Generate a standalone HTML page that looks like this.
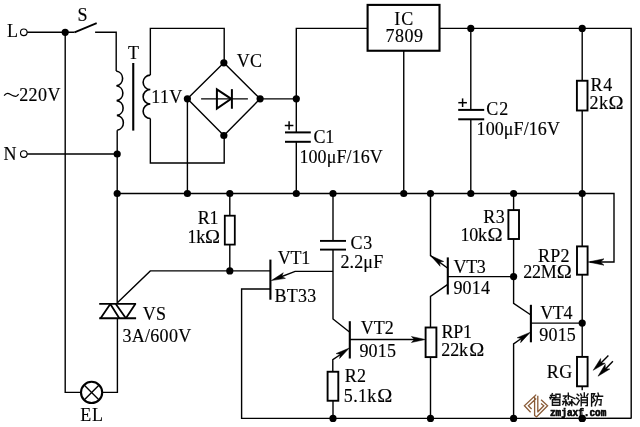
<!DOCTYPE html>
<html><head><meta charset="utf-8"><style>
html,body{margin:0;padding:0;background:#fff;width:640px;height:427px;overflow:hidden}
svg{display:block;will-change:transform}
text{font-family:"Liberation Serif",serif;fill:#000;stroke:#000;stroke-width:0.15px}
</style></head><body>
<svg width="640" height="427" viewBox="0 0 640 427">
<g fill="none" stroke="#000" stroke-linecap="butt" stroke-linejoin="miter">
<circle cx="23.8" cy="32.3" r="3.3" fill="none" stroke-width="1.15"/>
<path d="M27.1,32.3 L74.5,32.3" stroke-width="1.4"/>
<circle cx="65.2" cy="32.3" r="3.6" fill="#000" stroke="none"/>
<path d="M74.5,32.3 L96.7,23.1" stroke-width="1.8"/>
<path d="M95.1,32.3 L116.2,32.3 L116.2,71" stroke-width="1.4"/>
<path d="M116.2,71 a7.5,7.5 0 0 1 0.25,14.8 a7.5,7.5 0 0 1 0.25,14.8 a7.5,7.5 0 0 1 0.25,14.8 a7.5,7.5 0 0 1 0.25,14.8" stroke-width="1.6" fill="none"/>
<path d="M117.2,130.2 L117.2,303.9" stroke-width="1.4"/>
<path d="M117.4,318.2 L117.4,392.4 L102.9,392.4" stroke-width="1.4"/>
<circle cx="23.8" cy="154.0" r="3.3" fill="none" stroke-width="1.15"/>
<path d="M27.1,154.0 L117.2,154.0" stroke-width="1.4"/>
<circle cx="117.2" cy="154.0" r="3.6" fill="#000" stroke="none"/>
<path d="M65.2,32.3 L65.2,392.4 L80.3,392.4" stroke-width="1.4"/>
<circle cx="91.6" cy="392.4" r="10.6" fill="none" stroke-width="2.1"/>
<path d="M84.1,384.9 L99.1,399.9" stroke-width="1.4"/>
<path d="M99.1,384.9 L84.1,399.9" stroke-width="1.4"/>
<path d="M133.25,63 L133.25,130.6" stroke-width="2.1"/>
<path d="M224.2,62.8 L224.2,28.4 L150.35,28.4 L150.35,75.1" stroke-width="1.4"/>
<path d="M150.35,75.1 a7.23,7.23 0 0 0 0,14.47 a7.23,7.23 0 0 0 0,14.47 a7.23,7.23 0 0 0 0,14.47" stroke-width="1.6" fill="none"/>
<path d="M150.35,118.5 L150.35,163.0 L224.2,163.0 L224.2,135.5" stroke-width="1.4"/>
<path d="M223.85,62.8 L260.1,98.85 L223.85,135.5 L187.4,98.85 L223.85,62.8" stroke-width="1.4"/>
<circle cx="223.85" cy="62.8" r="3.6" fill="#000" stroke="none"/>
<circle cx="260.1" cy="98.85" r="3.6" fill="#000" stroke="none"/>
<circle cx="223.85" cy="135.5" r="3.6" fill="#000" stroke="none"/>
<circle cx="187.4" cy="98.85" r="3.6" fill="#000" stroke="none"/>
<path d="M201.1,98.85 L247.9,98.85" stroke-width="1.4"/>
<path d="M216.9,89.4 L216.9,108.5 L231.2,98.85 Z" stroke-width="2" fill="none"/>
<path d="M231.9,89.15 L231.9,108.75" stroke-width="2"/>
<path d="M187.4,98.85 L187.4,193.5" stroke-width="1.4"/>
<path d="M260.1,98.85 L296.3,98.85" stroke-width="1.4"/>
<circle cx="296.3" cy="98.85" r="3.6" fill="#000" stroke="none"/>
<path d="M296.3,132.4 L296.3,28.4 L367.6,28.4" stroke-width="1.4"/>
<rect x="367.6" y="4.9" width="71.89999999999998" height="45.85" fill="none" stroke-width="2.1"/>
<path d="M439.5,28.4 L631.2,28.4 L631.2,418.4" stroke-width="1.4"/>
<circle cx="470.8" cy="28.4" r="3.6" fill="#000" stroke="none"/>
<circle cx="582.2" cy="28.4" r="3.6" fill="#000" stroke="none"/>
<path d="M403.75,50.75 L403.75,193.5" stroke-width="1.4"/>
<path d="M285,132.4 L310.8,132.4" stroke-width="2.0"/>
<path d="M285,141.8 L310.8,141.8" stroke-width="2.0"/>
<path d="M296.3,141.8 L296.3,193.5" stroke-width="1.4"/>
<path d="M284.8,125.5 L293.4,125.5" stroke-width="1.5"/>
<path d="M289.1,121.2 L289.1,129.8" stroke-width="1.5"/>
<path d="M470.8,28.4 L470.8,109.9" stroke-width="1.4"/>
<path d="M458.2,109.9 L484.2,109.9" stroke-width="2.0"/>
<path d="M458.2,119.3 L484.2,119.3" stroke-width="2.0"/>
<path d="M470.8,119.3 L470.8,193.5" stroke-width="1.4"/>
<path d="M458.3,102.7 L466.9,102.7" stroke-width="1.5"/>
<path d="M462.6,98.4 L462.6,107" stroke-width="1.5"/>
<path d="M582.2,28.4 L582.2,80.75" stroke-width="1.4"/>
<rect x="576.9" y="80.75" width="10.600000000000023" height="29.75" fill="none" stroke-width="1.9"/>
<path d="M582.2,110.5 L582.2,246.4" stroke-width="1.4"/>
<path d="M117.2,193.5 L614,193.5 L614,262.0 L590,262.0" stroke-width="1.4"/>
<circle cx="117.2" cy="193.5" r="3.6" fill="#000" stroke="none"/>
<circle cx="187.4" cy="193.5" r="3.6" fill="#000" stroke="none"/>
<circle cx="229.8" cy="193.5" r="3.6" fill="#000" stroke="none"/>
<circle cx="296.3" cy="193.5" r="3.6" fill="#000" stroke="none"/>
<circle cx="333" cy="193.5" r="3.6" fill="#000" stroke="none"/>
<circle cx="403.75" cy="193.5" r="3.6" fill="#000" stroke="none"/>
<circle cx="430.5" cy="193.5" r="3.6" fill="#000" stroke="none"/>
<circle cx="470.8" cy="193.5" r="3.6" fill="#000" stroke="none"/>
<circle cx="513.6" cy="193.5" r="3.6" fill="#000" stroke="none"/>
<circle cx="582.2" cy="193.5" r="3.6" fill="#000" stroke="none"/>
<path d="M229.8,193.5 L229.8,215.7" stroke-width="1.4"/>
<rect x="224.8" y="215.7" width="10.0" height="28.900000000000006" fill="none" stroke-width="1.8"/>
<path d="M229.8,244.6 L229.8,270.9" stroke-width="1.4"/>
<circle cx="229.8" cy="270.9" r="3.6" fill="#000" stroke="none"/>
<path d="M117.6,302.5 L150.3,270.9 L270.4,270.9" stroke-width="1.4"/>
<path d="M270.4,259.6 L270.4,299.7" stroke-width="2.1"/>
<path d="M270.4,289.0 L241.6,289.0 L241.6,418.4 L631.2,418.4" stroke-width="1.4"/>
<path d="M333,271.4 L295.1,271.4 L278,278" stroke-width="1.4"/>
<path d="M271.30,280.60 L285.44,278.35 L281.56,276.63 L283.28,272.75 Z" fill="#000" stroke="#000" stroke-width="0.5" stroke-linejoin="miter"/>
<path d="M333,193.5 L333,240.9" stroke-width="1.4"/>
<path d="M320,240.9 L346,240.9" stroke-width="1.9"/>
<path d="M320,249.6 L346,249.6" stroke-width="1.9"/>
<path d="M333,249.6 L333,319 L349.8,332.3" stroke-width="1.4"/>
<path d="M349.8,321.2 L349.8,358.5" stroke-width="2.1"/>
<path d="M349.8,339.5 L418,339.5" stroke-width="1.4"/>
<path d="M425.40,339.50 L411.40,336.50 L414.40,339.50 L411.40,342.50 Z" fill="#000" stroke="#000" stroke-width="0.5" stroke-linejoin="miter"/>
<path d="M332.8,371.75 L332.8,359.6 L342,353.5" stroke-width="1.4"/>
<path d="M349.30,348.00 L336.12,353.60 L340.30,354.33 L339.57,358.51 Z" fill="#000" stroke="#000" stroke-width="0.5" stroke-linejoin="miter"/>
<rect x="327.6" y="371.75" width="10.699999999999989" height="29.0" fill="none" stroke-width="1.9"/>
<path d="M333,400.75 L333,418.4" stroke-width="1.4"/>
<path d="M430.5,193.5 L430.5,255.6 L447.8,268.2" stroke-width="1.4"/>
<path d="M430.60,255.60 L440.12,266.29 L439.47,262.10 L443.67,261.45 Z" fill="#000" stroke="#000" stroke-width="0.5" stroke-linejoin="miter"/>
<path d="M447.8,257.4 L447.8,294.5" stroke-width="2.1"/>
<path d="M447.8,276.6 L513.6,276.6" stroke-width="1.4"/>
<circle cx="513.6" cy="276.6" r="3.6" fill="#000" stroke="none"/>
<path d="M447.8,284.4 L430.5,296.3 L430.5,327.5" stroke-width="1.4"/>
<rect x="425.6" y="327.5" width="10.799999999999955" height="29.600000000000023" fill="none" stroke-width="1.9"/>
<path d="M430.5,357.1 L430.5,418.4" stroke-width="1.4"/>
<path d="M513.6,193.5 L513.6,210.1" stroke-width="1.4"/>
<rect x="508.4" y="210.1" width="10.600000000000023" height="28.900000000000006" fill="none" stroke-width="1.9"/>
<path d="M513.6,239 L513.6,303.3 L530.9,315" stroke-width="1.4"/>
<path d="M530.9,304.8 L530.9,342.3" stroke-width="2.1"/>
<path d="M530.9,323.1 L582.2,323.1" stroke-width="1.4"/>
<circle cx="582.2" cy="323.1" r="3.6" fill="#000" stroke="none"/>
<path d="M513.6,418.4 L513.6,343.9 L522,338" stroke-width="1.4"/>
<path d="M530.40,332.20 L517.20,337.74 L521.37,338.49 L520.63,342.66 Z" fill="#000" stroke="#000" stroke-width="0.5" stroke-linejoin="miter"/>
<rect x="577" y="246.4" width="10.600000000000023" height="28.299999999999983" fill="none" stroke-width="1.9"/>
<path d="M588.20,262.00 L604.00,265.20 L600.50,262.00 L604.00,258.80 Z" fill="#000" stroke="#000" stroke-width="0.5" stroke-linejoin="miter"/>
<path d="M582.2,274.7 L582.2,356.9" stroke-width="1.4"/>
<rect x="577" y="356.9" width="10.600000000000023" height="29.400000000000034" fill="none" stroke-width="1.9"/>
<path d="M582.2,386.3 L582.2,418.4" stroke-width="1.4"/>
<circle cx="333" cy="418.4" r="3.6" fill="#000" stroke="none"/>
<circle cx="430.5" cy="418.4" r="3.6" fill="#000" stroke="none"/>
<circle cx="513.6" cy="418.4" r="3.6" fill="#000" stroke="none"/>
<circle cx="582.2" cy="418.4" r="3.6" fill="#000" stroke="none"/>
<path d="M608.4,355.6 L599,365" stroke-width="1.4"/>
<path d="M593.20,370.30 L605.20,363.29 L600.75,363.00 L600.61,358.54 Z" fill="#000" stroke="#000" stroke-width="0.5" stroke-linejoin="miter"/>
<path d="M612.9,361.3 L604,370.5" stroke-width="1.4"/>
<path d="M598.00,376.20 L609.88,368.99 L605.42,368.78 L605.21,364.32 Z" fill="#000" stroke="#000" stroke-width="0.5" stroke-linejoin="miter"/>
<path d="M99.2,303.9 L136.1,303.9" stroke-width="1.9"/>
<path d="M99.2,318.2 L136.1,318.2" stroke-width="1.9"/>
<path d="M100.6,318.2 L110.3,303.9 L119.3,318.2 M115.8,303.9 L125.9,318.2 L135.3,303.9" stroke-width="1.8" stroke-linejoin="bevel"/>
<path d="M4.1,95.7 C5.3,94 6.3,93.3 7.4,93.3 C9.5,93.3 11.5,95.3 13.5,95.9 C14.6,96.3 15.5,96.5 16.3,96.2 C17.2,95.9 18,95 18.6,94.2" stroke-width="1.2" fill="none"/>
</g>
<g>
<text x="7.0" y="37.38" style="font-size:18px">L</text>
<text x="77.45" y="21.25" style="font-size:18px">S</text>
<text x="127.95" y="59.08" style="font-size:18px">T</text>
<text x="19.15" y="100.50" style="font-size:18px;letter-spacing:0.43px">220V</text>
<text x="3.4" y="159.88" style="font-size:18px">N</text>
<text x="151.2" y="103.43" style="font-size:18px;letter-spacing:0.4px">11V</text>
<text x="236.75" y="66.50" style="font-size:18px;letter-spacing:0.25px">VC</text>
<text x="394.35" y="24.70" style="font-size:18px;letter-spacing:0.9px">IC</text>
<text x="385.55" y="42.15" style="font-size:18px;letter-spacing:0.5px">7809</text>
<text x="313.55" y="143.40" style="font-size:18px;letter-spacing:-0.3px">C1</text>
<text x="299.4" y="162.60" style="font-size:18px;letter-spacing:0.1px">100μF/16V</text>
<text x="486.35" y="115.35" style="font-size:18px;letter-spacing:0.9px">C2</text>
<text x="476.6" y="135.00" style="font-size:18px;letter-spacing:0.08px">100μF/16V</text>
<text x="590.6" y="90.82" style="font-size:18px;letter-spacing:0.55px">R4</text>
<text x="589.45" y="108.60" style="font-size:18px;letter-spacing:0.55px">2k</text>
<text transform="translate(608.50,108.60) scale(1.126,1)" x="0" y="0" style="font-size:18px">Ω</text>
<text x="197.8" y="223.52" style="font-size:18px;letter-spacing:-0.3px">R1</text>
<text x="187.4" y="242.75" style="font-size:18px;letter-spacing:-0.2px">1k</text>
<text transform="translate(204.90,242.75) scale(1.126,1)" x="0" y="0" style="font-size:18px">Ω</text>
<text x="277.85" y="264.02" style="font-size:18px;letter-spacing:-0.3px">VT1</text>
<text x="274.5" y="302.35" style="font-size:18px;letter-spacing:0.22px">BT33</text>
<text x="350.5" y="249.32" style="font-size:18px;letter-spacing:0.75px">C3</text>
<text x="340.5" y="268.00" style="font-size:18px;letter-spacing:0.12px">2.2μF</text>
<text x="142.65" y="319.65" style="font-size:18px;letter-spacing:0.45px">VS</text>
<text x="122.5" y="341.65" style="font-size:18px;letter-spacing:0.28px">3A/600V</text>
<text x="80.2" y="421.23" style="font-size:18px;letter-spacing:0.9px">EL</text>
<text x="483.3" y="223.10" style="font-size:18px;letter-spacing:0.45px">R3</text>
<text x="460.6" y="241.30" style="font-size:18px;letter-spacing:-0.3px">10k</text>
<text transform="translate(487.60,241.30) scale(1.126,1)" x="0" y="0" style="font-size:18px">Ω</text>
<text x="453.45" y="273.20" style="font-size:18px;letter-spacing:-0.3px">VT3</text>
<text x="453.4" y="293.60" style="font-size:18px;letter-spacing:0.22px">9014</text>
<text x="538.0" y="261.75" style="font-size:18px;letter-spacing:0.2px">RP2</text>
<text x="523.15" y="277.65" style="font-size:18px;letter-spacing:-0.18px">22M</text>
<text transform="translate(556.80,277.65) scale(1.126,1)" x="0" y="0" style="font-size:18px">Ω</text>
<text x="540.15" y="319.42" style="font-size:18px;letter-spacing:-0.3px">VT4</text>
<text x="539.2" y="340.90" style="font-size:18px;letter-spacing:0.22px">9015</text>
<text x="360.85" y="333.80" style="font-size:18px;letter-spacing:-0.03px">VT2</text>
<text x="359.4" y="356.60" style="font-size:18px;letter-spacing:0.22px">9015</text>
<text x="441.6" y="337.83" style="font-size:18px;letter-spacing:-0.3px">RP1</text>
<text x="441.35" y="355.70" style="font-size:18px;letter-spacing:-0.12px">22k</text>
<text transform="translate(469.20,355.70) scale(1.126,1)" x="0" y="0" style="font-size:18px">Ω</text>
<text x="344.8" y="382.35" style="font-size:18px;letter-spacing:0.2px">R2</text>
<text x="343.8" y="401.50" style="font-size:18px;letter-spacing:0.33px">5.1k</text>
<text transform="translate(377.20,401.50) scale(1.126,1)" x="0" y="0" style="font-size:18px">Ω</text>
<text x="546.8" y="378.15" style="font-size:18px;letter-spacing:0.4px">RG</text>
</g>
<g>
<rect x="548.5" y="390.2" width="56" height="17" fill="#fff" stroke="none"/>
<path d="M536.2,394.6 L524.4,405.8 L530.6,412.3 M536.2,398.6 L528.4,405.8 L531.6,409 M534.6,396 L534.6,415.5 L536.6,417 M537.8,395.8 L537.8,412.5 M541.1,399.8 L547.6,405.8 L536.4,417 M541,403.6 L543.8,405.8 L537.9,411.8" stroke="#8a5c38" stroke-width="1.3" fill="none"/>
<path d="M552.3,393.6 L550.4,398.9 M550.6,395.4 L554.6,395.4 M549.8,397.5 L555.3,397.5 M553,397.6 L555.5,399.6" stroke="#111" stroke-width="1.4" fill="none" stroke-linecap="square"/>
<path d="M555.9,394.3 L560,394.3 L560,397.9 L555.9,397.9 Z" stroke="#111" stroke-width="1.4" fill="none" stroke-linecap="square"/>
<path d="M552.4,399.7 L559.8,399.7 L559.8,405.3 L552.4,405.3 Z M552.4,402.5 L559.8,402.5" stroke="#111" stroke-width="1.4" fill="none" stroke-linecap="square"/>
<path d="M568.3,393.2 L568.3,399 M563.4,396 L566.6,396 L564.3,398.8 M569,396 L574.8,398.6" stroke="#111" stroke-width="1.4" fill="none" stroke-linecap="square"/>
<path d="M565.8,399.6 L565.8,405.6 M562.8,401.5 L564.5,401.5 L562.8,404.5 M566.3,401.5 L568.3,404.8" stroke="#111" stroke-width="1.4" fill="none" stroke-linecap="square"/>
<path d="M571.8,399.6 L571.8,405.6 M569.2,402 L570.9,402 L569.3,404.8 M572.2,401.5 L575.3,404.6" stroke="#111" stroke-width="1.4" fill="none" stroke-linecap="square"/>
<path d="M577.2,394.2 L578.8,395.6 M576.6,397.8 L578.3,399.1 M576.8,404.8 L579.3,400.4" stroke="#111" stroke-width="1.4" fill="none" stroke-linecap="square"/>
<path d="M584.3,393 L584.3,396.4 M580.7,394 L581.6,395.9 M588,394 L586.8,395.9" stroke="#111" stroke-width="1.4" fill="none" stroke-linecap="square"/>
<path d="M581.2,405.8 L581.2,397.4 L587.3,397.4 L587.3,405.6 L586,405.6 M581.2,400 L587.3,400 M581.2,402.5 L587.3,402.5" stroke="#111" stroke-width="1.4" fill="none" stroke-linecap="square"/>
<path d="M591.6,406 L591.6,393.8 L594.6,393.8 L592.9,397.5 L594.9,400.3 L592.6,402.3" stroke="#111" stroke-width="1.4" fill="none" stroke-linecap="square"/>
<path d="M598,393.2 L598.6,395 M595.4,396.2 L602.6,396.2 M597.4,396.4 L597,401 L595.2,405.6 M597.3,399.6 L601.2,399.6 L600.8,405.2 L599.3,404.8" stroke="#111" stroke-width="1.4" fill="none" stroke-linecap="square"/>
<text x="550" y="415" style="font-family:'Liberation Mono',monospace;font-weight:bold;font-size:9.4px;fill:#111;stroke:#fff;stroke-width:2.4px;paint-order:stroke" transform="translate(0,-40.9) scale(1,1.1)">zmjaxf.com</text><text x="550" y="415" style="font-family:'Liberation Mono',monospace;font-weight:bold;font-size:9.4px;fill:#111;stroke:#111;stroke-width:0.5px" transform="translate(0,-40.9) scale(1,1.1)">zmjaxf.com</text>
<path d="M540,418.4 L631.2,418.4" stroke="#000" stroke-width="1.4"/>
<circle cx="582.2" cy="418.4" r="3.6" fill="#000"/>
</g>
</svg>
</body></html>
